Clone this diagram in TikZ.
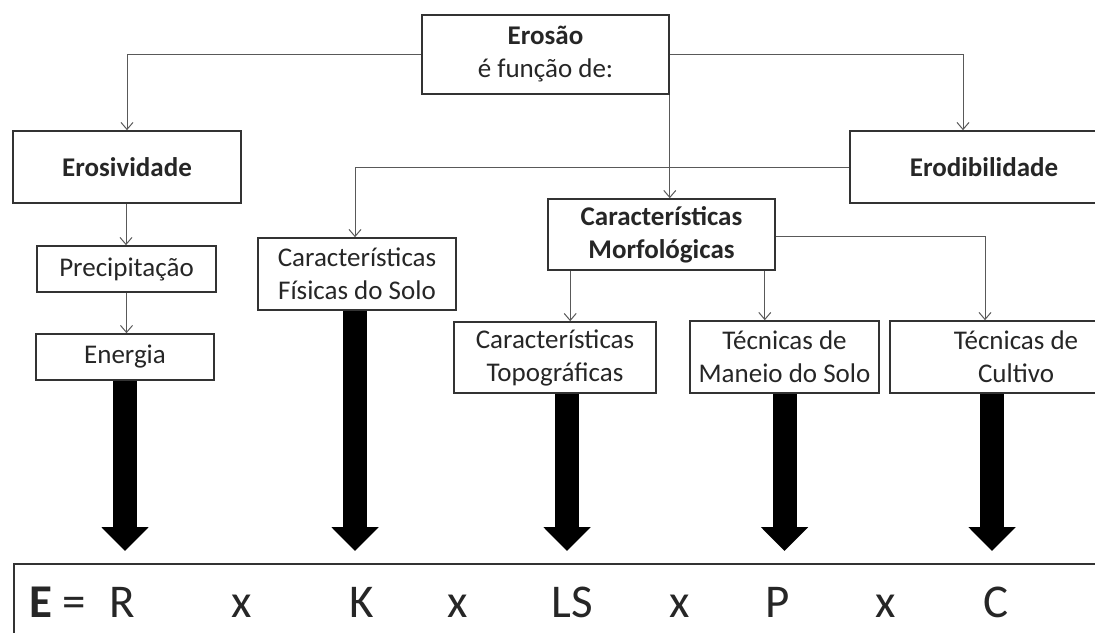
\documentclass[tikz,border=0pt]{standalone}
\usepackage{fontspec}
\setmainfont{Carlito}
\usetikzlibrary{arrows.meta}

\begin{document}
\begin{tikzpicture}[x=1pt,y=-1pt,
  caixa/.style={draw=black!80, line width=1.6pt, align=center, inner sep=0pt, text=black!85, font=\fontsize{27}{33}\selectfont},
  liga/.style={draw=black!65, line width=1pt, -{Straight Barb[length=7pt,width=12pt]}},
  seta/.style={line width=24pt, -{Triangle[length=24pt,width=46pt]}, shorten >=12pt},
  termo/.style={anchor=base, text=black!85, font=\fontsize{47}{50}\selectfont}]
\useasboundingbox (0,0) rectangle (1095,632);
\clip (0,0) rectangle (1095,632);

% caixas
\node[caixa, minimum width=247pt, minimum height=79pt] (erosao) at (545.5,54.5) {\textbf{Erosão}\\é função de:};
\node[caixa, minimum width=228pt, minimum height=72pt] (erosividade) at (127,167) {\textbf{Erosividade}};
\node[caixa, minimum width=268pt, minimum height=72pt] (erodibilidade) at (984,167) {\textbf{Erodibilidade}};
\node[caixa, minimum width=227pt, minimum height=71pt] (morfologicas) at (661.5,234.5) {\textbf{Características}\\\textbf{Morfológicas}};
\node[caixa, minimum width=198pt, minimum height=72pt] (fisicas) at (357,274) {Características\\Físicas do Solo};
\node[caixa, minimum width=179pt, minimum height=46pt] (precipitacao) at (126.5,269) {Precipitação};
\node[caixa, minimum width=178pt, minimum height=46pt] (energia) at (125,357) {Energia};
\node[caixa, minimum width=202pt, minimum height=71pt] (topograficas) at (555,357.5) {Características\\Topográficas};
\node[caixa, minimum width=189pt, minimum height=72pt] (maneio) at (784.5,357) {Técnicas de\\Maneio do Solo};
\node[caixa, minimum width=252pt, minimum height=72pt] (cultivo) at (1016,357) {Técnicas de\\Cultivo};
\node[draw=black!80, line width=1.6pt, minimum width=1110pt, minimum height=90pt, anchor=north west] (formula) at (13,563) {};

% ligacoes
\draw[liga] (erosao.west) -| (erosividade.north);
\draw[liga] (erosao.east) -| ([xshift=-21pt]erodibilidade.north);
\draw[liga] (erosao.south east) -- (erosao.south east |- morfologicas.north);
\draw[liga] (erodibilidade.west) -| ([xshift=-2pt]fisicas.north);
\draw[liga] ([xshift=-1pt]erosividade.south) -- ([xshift=-1pt]erosividade.south |- precipitacao.north);
\draw[liga] (precipitacao.south) -- (precipitacao.south |- energia.north);
\draw[liga] ([xshift=23pt]morfologicas.south west) -- ([xshift=23pt]morfologicas.south west |- topograficas.north);
\draw[liga] ([xshift=-11pt]morfologicas.south east) -- ([xshift=-11pt]morfologicas.south east |- maneio.north);
\draw[liga] ([yshift=-2pt]morfologicas.east) -| ([xshift=-31pt]cultivo.north);

% setas grossas
\draw[seta] (energia.south) -- (energia.south |- formula.north);
\draw[seta] ([xshift=-2pt]fisicas.south) -- ([xshift=-2pt]fisicas.south |- formula.north);
\draw[seta] ([xshift=12pt]topograficas.south) -- ([xshift=12pt]topograficas.south |- formula.north);
\draw[seta] (maneio.south) -- (maneio.south |- formula.north);
\draw[seta] ([xshift=-24pt]cultivo.south) -- ([xshift=-24pt]cultivo.south |- formula.north);

% equacao
\node[termo] (e) at (41,617) {\textbf{E}};
\node[termo] (igual) at (74,617) {=};
\node[termo] (r) at (122,617) {R};
\node[termo] (x1) at (242,617) {x};
\node[termo] (k) at (362,617) {K};
\node[termo] (x2) at (458,617) {x};
\node[termo] (ls) at (572,617) {LS};
\node[termo] (x3) at (680,617) {x};
\node[termo] (p) at (778,617) {P};
\node[termo] (x4) at (886,617) {x};
\node[termo] (c) at (996,617) {C};
\end{tikzpicture}
\end{document}
